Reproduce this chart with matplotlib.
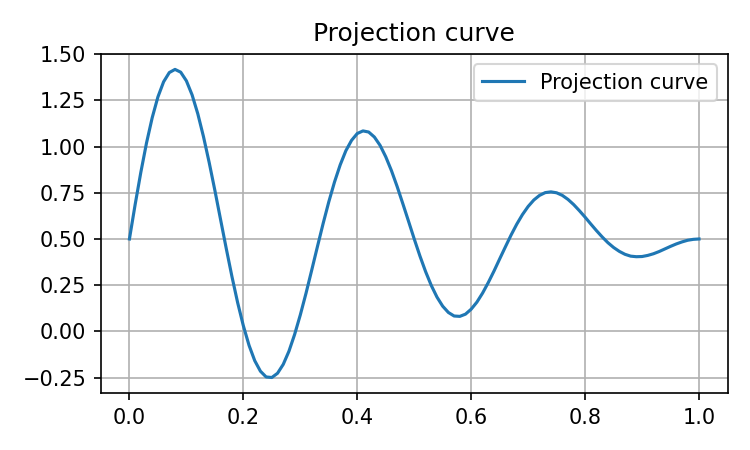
import matplotlib
matplotlib.use("Agg")
import matplotlib.pyplot as plt

# values (step 0.01)
x_vals = [i / 100 for i in range(101)]
y_vals = [0.500, 0.686, 0.861, 1.020, 1.157, 1.269, 1.351, 1.401, 1.418, 1.403,
          1.356, 1.280, 1.178, 1.054, 0.914, 0.763, 0.605, 0.448, 0.296, 0.155,
          0.030, -0.076, -0.159, -0.216, -0.247, -0.250, -0.227, -0.179, -0.108, -0.017,
          0.089, 0.206, 0.331, 0.458, 0.583, 0.701, 0.808, 0.901, 0.978, 1.034,
          1.071, 1.085, 1.079, 1.052, 1.007, 0.945, 0.870, 0.784, 0.691, 0.596,
          0.500, 0.408, 0.323, 0.248, 0.185, 0.136, 0.102, 0.083, 0.081, 0.093,
          0.120, 0.158, 0.207, 0.264, 0.326, 0.392, 0.457, 0.521, 0.580, 0.632,
          0.676, 0.711, 0.736, 0.751, 0.755, 0.750, 0.736, 0.714, 0.686, 0.653,
          0.618, 0.581, 0.545, 0.511, 0.480, 0.454, 0.433, 0.417, 0.407, 0.404,
          0.405, 0.411, 0.420, 0.432, 0.446, 0.460, 0.473, 0.484, 0.493, 0.498, 0.500]

fig, ax = plt.subplots(figsize=(5, 3), dpi=150)
ax.plot(x_vals, y_vals, label='Projection curve')
ax.set_title('Projection curve')
ax.legend(loc='upper right')
ax.grid(True)

fig.tight_layout()
fig.savefig('out.png', dpi=150)
